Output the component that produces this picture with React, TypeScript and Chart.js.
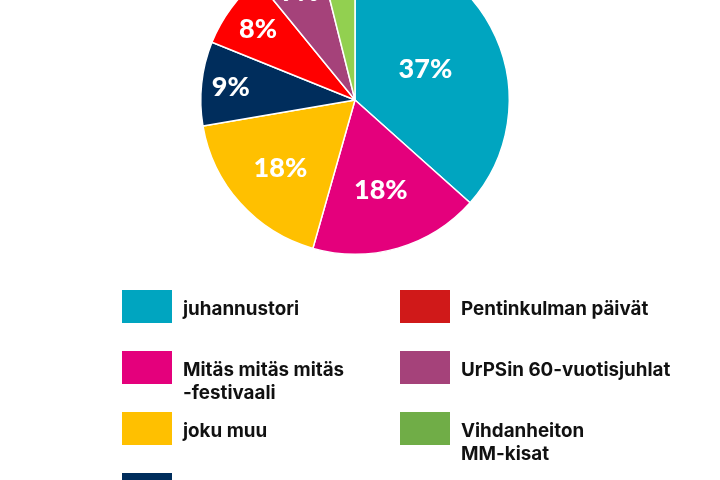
import React, { useEffect, useRef } from "react";
import { Chart, registerables } from "chart.js";

Chart.register(...registerables);

// ---- data ----
const categories = [
  "juhannustori",
  "Mitäs mitäs mitäs\n-festivaali",
  "joku muu",
  "",
  "Pentinkulman päivät",
  "UrPSin 60-vuotisjuhlat",
  "Vihdanheiton\nMM-kisat",
];
const shares = [36.6, 17.8, 17.9, 8.8, 8.0, 7.0, 3.9];
const percentLabels = ["37%", "18%", "18%", "9%", "8%", "7%", ""];
const sliceColors = ["#00A5C0", "#E4007C", "#FFC000", "#002D5C", "#FF0000", "#A5427A", "#92D050"];
const legendColors = ["#00A5C0", "#E4007C", "#FFC000", "#002D5C", "#D01919", "#A5427A", "#70AD47"];

// label distance from centre as fraction of radius (styling)
const labelRadius = [0.5, 0.6, 0.65, 0.81, 0.78, 0.79, 0.8];

// the canvas is taller than the view and shifted up so the pie top is cropped
const SHIFT = 55;

const sliceLabelPlugin = {
  id: "sliceLabels",
  afterDatasetsDraw(chart: any) {
    const ctx = chart.ctx;
    const meta = chart.getDatasetMeta(0);
    ctx.save();
    ctx.fillStyle = "#ffffff";
    ctx.font = "900 27px Lato";
    ctx.textAlign = "center";
    ctx.textBaseline = "middle";
    meta.data.forEach((arc: any, i: number) => {
      const t = percentLabels[i];
      if (!t) return;
      const p = arc.getProps(["x", "y", "startAngle", "endAngle", "outerRadius"], true);
      const mid = (p.startAngle + p.endAngle) / 2;
      const r = p.outerRadius * labelRadius[i];
      ctx.fillText(t, p.x + Math.cos(mid) * r, p.y + Math.sin(mid) * r + 1);
    });
    ctx.restore();
  },
};

const legendPlugin = {
  id: "customLegend",
  afterDraw(chart: any) {
    const ctx = chart.ctx;
    const colX = [122, 400];
    const top0 = 290 + SHIFT;
    const rowStep = 61;
    const boxW = 50;
    const boxH = 33;
    const perCol = 4;
    ctx.save();
    ctx.font = "700 18.8px Inter";
    ctx.textAlign = "left";
    ctx.textBaseline = "middle";
    categories.forEach((label, i) => {
      const col = Math.floor(i / perCol);
      const row = i % perCol;
      const x = colX[col];
      const y = top0 + row * rowStep;
      ctx.fillStyle = legendColors[i];
      ctx.fillRect(x, y, boxW, boxH);
      ctx.fillStyle = "#111111";
      const lines = label.split("\n");
      lines.forEach((ln, k) => {
        ctx.fillText(ln, x + boxW + 11, y + boxH / 2 + 3 + k * 23);
      });
    });
    ctx.restore();
  },
};

export default function App() {
  const ref = useRef<HTMLCanvasElement | null>(null);
  useEffect(() => {
    document.body.style.margin = "0";
    const canvas = ref.current;
    if (!canvas) return;
    const chart = new Chart(canvas, {
      type: "pie",
      data: {
        labels: categories,
        datasets: [
          {
            data: shares,
            backgroundColor: sliceColors,
            borderColor: "#ffffff",
            borderWidth: 1.5,
          },
        ],
      },
      options: {
        responsive: false,
        animation: false,
        layout: { padding: { top: 0, left: 200, right: 210, bottom: 480 + SHIFT - 310 } },
        plugins: {
          legend: { display: false },
          tooltip: { enabled: false },
          title: { display: false },
        },
      },
      plugins: [sliceLabelPlugin, legendPlugin],
    });
    return () => chart.destroy();
  }, []);
  return (
    <div style={{ width: 720, height: 480, background: "#ffffff", overflow: "hidden", position: "relative" }}>
      <canvas
        ref={ref}
        width={720}
        height={480 + SHIFT}
        style={{ position: "absolute", left: 0, top: -SHIFT, display: "block" }}
      />
    </div>
  );
}
